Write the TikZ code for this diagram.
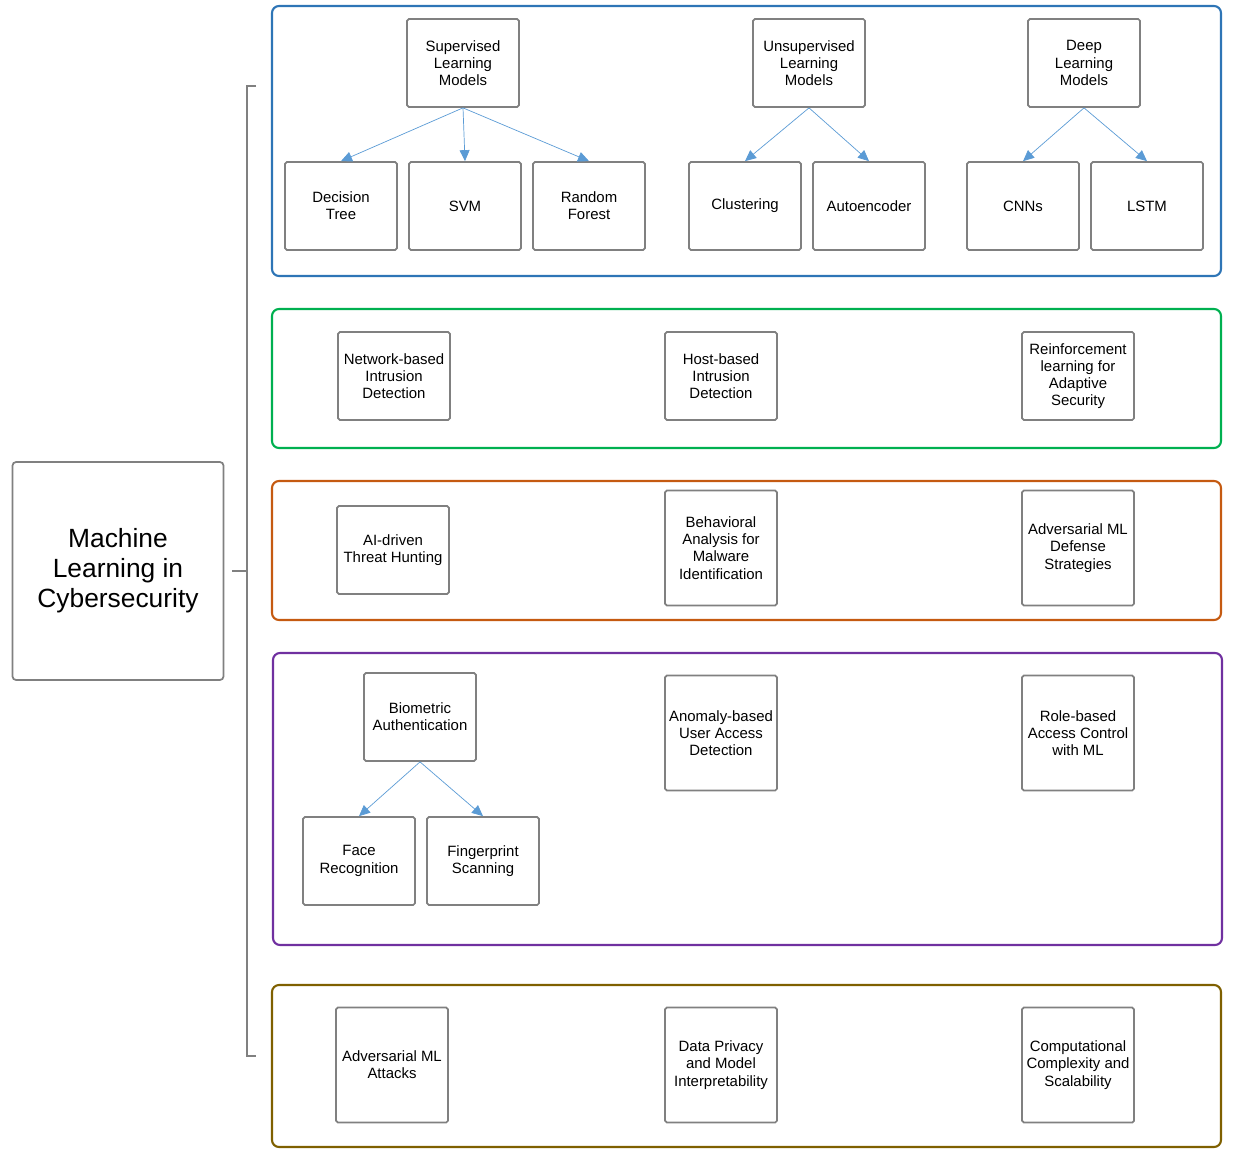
\documentclass[tikz,border=0pt]{standalone}
\usepackage{fontspec}
\setmainfont{Liberation Sans}
\usetikzlibrary{arrows.meta}
\definecolor{frameblue}{RGB}{46,117,182}
\definecolor{framegreen}{RGB}{0,176,80}
\definecolor{frameorange}{RGB}{197,90,17}
\definecolor{framepurple}{RGB}{112,48,160}
\definecolor{frameolive}{RGB}{127,96,0}
\definecolor{arrowblue}{RGB}{91,155,213}
\definecolor{boxgray}{RGB}{128,128,128}
\begin{document}
\begin{tikzpicture}[x=0.02cm, y=-0.02cm,
    item/.style={draw=boxgray, line width=1pt, rounded corners=1pt, align=center,
      minimum width=2.24cm, minimum height=1.76cm, inner sep=1pt,
      font=\fontsize{8.5}{9.8}\selectfont},
    tall/.style={minimum height=2.3cm},
    frame/.style={line width=1.2pt, rounded corners=4pt},
    link/.style={arrowblue, -{Triangle[length=2.2mm, width=2mm]}}]

    \useasboundingbox (0,0) rectangle (1239,1155);

    % group frames
    \draw [frame, frameblue] (272,6) rectangle (1221,276);
    \draw [frame, framegreen] (272,309) rectangle (1221,448);
    \draw [frame, frameorange] (272,481) rectangle (1221,620);
    \draw [frame, framepurple] (273,653) rectangle (1222,945);
    \draw [frame, frameolive] (272,985) rectangle (1221,1147);

    % root and bracket
    \node [draw=boxgray, line width=1pt, rounded corners=2pt, align=center,
      minimum width=4.22cm, minimum height=4.36cm,
      font=\fontsize{15}{17}\selectfont] (root) at (118,571)
      {Machine\\Learning in\\Cybersecurity};
    \coordinate (bt) at (247,86);
    \coordinate (bb) at (247,1056);
    \coordinate (bm) at (247,571);
    \draw [boxgray, line width=1pt] (256,86) -- (bt) -- (bb) -- (256,1056);
    \draw [boxgray, line width=1pt] (232,571) -- (bm);

    % models
    \node [item] (sup) at (463,63) {Supervised\\Learning\\Models};
    \node [item] (uns) at (809,63) {Unsupervised\\Learning\\Models};
    \node [item] (deep) at (1084,63) {Deep\\Learning\\Models};

    \node [item] (dt) at (341,206) {Decision\\Tree};
    \node [item] (svm) at (465,206) {SVM};
    \node [item] (rf) at (589,206) {Random\\Forest};
    \node [item] (clu) at (745,206) {Clustering};
    \node [item] (ae) at (869,206) {Autoencoder};
    \node [item] (cnn) at (1023,206) {CNNs};
    \node [item] (lstm) at (1147,206) {LSTM};

    \draw [link] (sup.south) -- (dt.north);
    \draw [link] (sup.south) -- (svm.north);
    \draw [link] (sup.south) -- (rf.north);
    \draw [link] (uns.south) -- (clu.north);
    \draw [link] (uns.south) -- (ae.north);
    \draw [link] (deep.south) -- (cnn.north);
    \draw [link] (deep.south) -- (lstm.north);

    % detection
    \node [item] (nid) at (394,376) {Network-based\\Intrusion\\Detection};
    \node [item] (hid) at (721,376) {Host-based\\Intrusion\\Detection};
    \node [item] (rl) at (1078,376) {Reinforcement\\learning for\\Adaptive\\Security};

    % threats
    \node [item] (hunt) at (393,550) {AI-driven\\Threat Hunting};
    \node [item, tall] (beh) at (721,548) {Behavioral\\Analysis for\\Malware\\Identification};
    \node [item, tall] (advd) at (1078,548) {Adversarial ML\\Defense\\Strategies};

    % access
    \node [item] (bio) at (420,717) {Biometric\\Authentication};
    \node [item, tall] (anom) at (721,733) {Anomaly-based\\User Access\\Detection};
    \node [item, tall] (rbac) at (1078,733) {Role-based\\Access Control\\with ML};
    \node [item] (face) at (359,861) {Face\\Recognition};
    \node [item] (fp) at (483,861) {Fingerprint\\Scanning};

    \draw [link] (bio.south) -- (face.north);
    \draw [link] (bio.south) -- (fp.north);

    % challenges
    \node [item, tall] (adva) at (392,1065) {Adversarial ML\\Attacks};
    \node [item, tall] (priv) at (721,1065) {Data Privacy\\and Model\\Interpretability};
    \node [item, tall] (comp) at (1078,1065) {Computational\\Complexity and\\Scalability};

  \end{tikzpicture}
\end{document}
